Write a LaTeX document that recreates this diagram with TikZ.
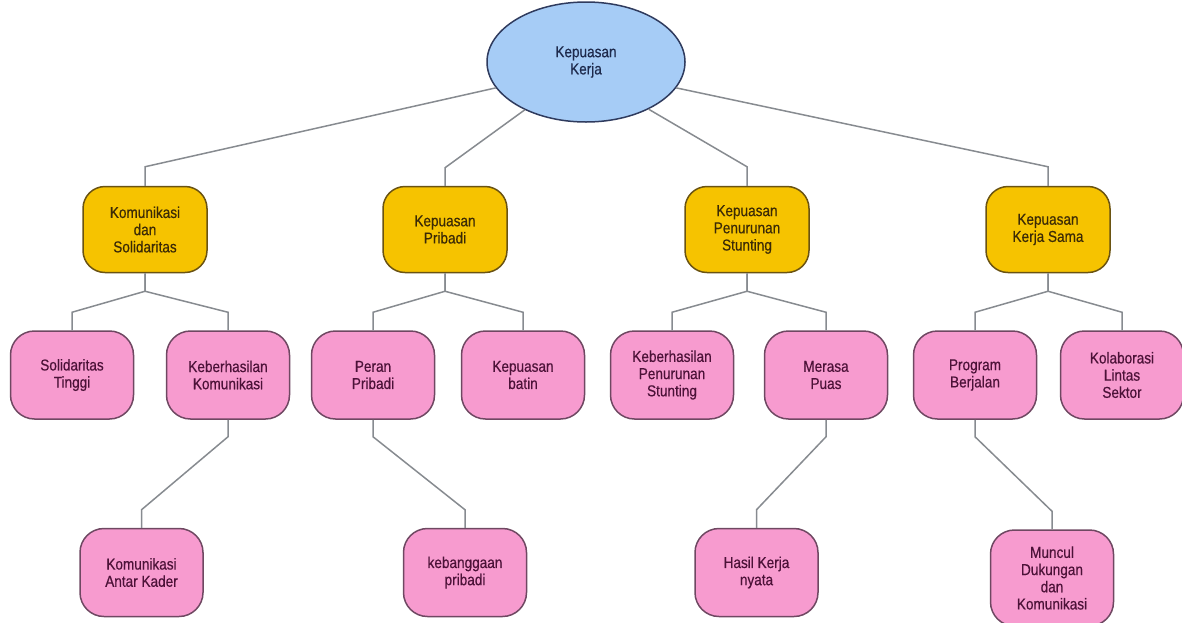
\documentclass[tikz,border=0pt]{standalone}
\usepackage{fontspec}
\setmainfont{Liberation Sans}[FakeStretch=0.86,FakeBold=0.4]
\usepackage{xcolor}
\usepackage{tikz}
\usetikzlibrary{calc}
\usetikzlibrary{shapes.geometric}

\definecolor{rootblue}{HTML}{A6CCF6}
\definecolor{rootline}{HTML}{2F3B5E}
\definecolor{roottext}{HTML}{1E2A4C}
\definecolor{goldfill}{HTML}{F6C300}
\definecolor{goldline}{HTML}{6A5312}
\definecolor{goldtext}{HTML}{3B2A06}
\definecolor{pinkfill}{HTML}{F79BCF}
\definecolor{pinkline}{HTML}{6F4862}
\definecolor{pinktext}{HTML}{4C1238}
\definecolor{linkgray}{HTML}{878B90}

\tikzset{
  akar/.style={ellipse, draw=rootline, fill=rootblue, line width=0.75pt,
    minimum width=99pt, minimum height=60pt, inner sep=0pt, align=center,
    text=roottext, font=\fontsize{7.9}{8.6}\selectfont},
  aspek/.style={rectangle, rounded corners=11pt, draw=goldline, fill=goldfill,
    line width=0.75pt, minimum width=62pt, minimum height=43pt, inner sep=1pt,
    align=center, text=goldtext, font=\fontsize{7.9}{8.6}\selectfont},
  tema/.style={rectangle, rounded corners=12pt, draw=pinkline, fill=pinkfill,
    line width=0.75pt, minimum width=61.5pt, minimum height=44pt, inner sep=1pt,
    align=center, text=pinktext, font=\fontsize{7.9}{8.6}\selectfont},
  hub/.style={draw=linkgray, line width=0.75pt},
}

\begin{document}
\begin{tikzpicture}[x=0.5pt, y=-0.5pt]
        %KANVAS
        \useasboundingbox (0,0) rectangle (1182,622);
        %AKAR
        \node[akar] (root) at (586,62) {Kepuasan\\Kerja};
        %ASPEK
        \node[aspek] (k1) at (145,229.5) {Komunikasi\\dan\\Solidaritas};
        \node[aspek] (k2) at (445,229.5) {Kepuasan\\Pribadi};
        \node[aspek] (k3) at (747,229.5) {Kepuasan\\Penurunan\\Stunting};
        \node[aspek] (k4) at (1048,229.5) {Kepuasan\\Kerja Sama};
        %TEMA
        \node[tema] (s1) at (72,375) {Solidaritas\\Tinggi};
        \node[tema] (s2) at (228,375) {Keberhasilan\\Komunikasi};
        \node[tema] (s3) at (373,375) {Peran\\Pribadi};
        \node[tema] (s4) at (523,375) {Kepuasan\\batin};
        \node[tema] (s5) at (672,375) {Keberhasilan\\Penurunan\\Stunting};
        \node[tema] (s6) at (826,375) {Merasa\\Puas};
        \node[tema] (s7) at (975,375) {Program\\Berjalan};
        \node[tema] (s8) at (1122,375) {Kolaborasi\\Lintas\\Sektor};
        %SUBTEMA
        \node[tema] (t1) at (141.5,572.5) {Komunikasi\\Antar Kader};
        \node[tema] (t2) at (465,572.5) {kebanggaan\\pribadi};
        \node[tema] (t3) at (756.5,572.5) {Hasil Kerja\\nyata};
        \node[tema, minimum height=48pt] (t4) at (1052,578) {Muncul\\Dukungan\\dan\\Komunikasi};
        %GARIS AKAR
        \draw[hub] (root.196) -- ($(k1.north)+(0,-19)$) -- (k1.north);
        \draw[hub] (root.218) -- ($(k2.north)+(0,-18)$) -- (k2.north);
        \draw[hub] (root.323) -- ($(k3.north)+(0,-19)$) -- (k3.north);
        \draw[hub] (root.344) -- ($(k4.north)+(0,-19)$) -- (k4.north);
        %GARIS CABANG
        \foreach \a/\b in {k1/s1,k1/s2,k2/s3,k2/s4,k3/s5,k3/s6,k4/s7,k4/s8}
          \draw[hub] (\a.south) -- ++(0,18) -- ($(\b.north)+(0,-18)$) -- (\b.north);
        \foreach \a/\b in {s2/t1,s3/t2,s6/t3,s7/t4}
          \draw[hub] (\a.south) -- ++(0,17) -- ($(\b.north)+(0,-18)$) -- (\b.north);
    \end{tikzpicture}
\end{document}
